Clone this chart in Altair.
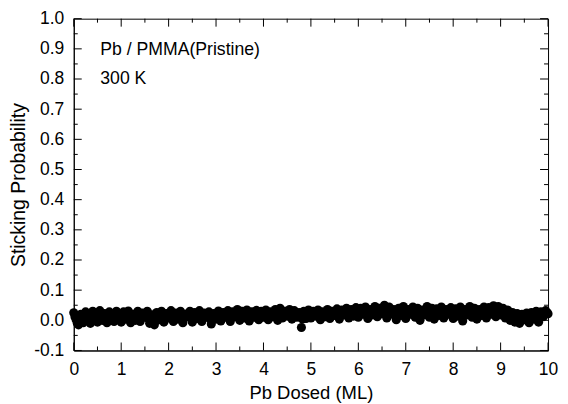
import altair as alt
import pandas as pd

# Pb dosed (ML) and sticking probability
dose = [
    0.00, 0.05, 0.10, 0.15, 0.20, 0.25, 0.30, 0.35, 0.40, 0.45, 0.50, 0.55, 0.60, 0.65, 0.70, 0.75, 0.80, 0.85, 0.90, 0.95,
    1.00, 1.05, 1.10, 1.15, 1.20, 1.25, 1.30, 1.35, 1.40, 1.45, 1.50, 1.55, 1.60, 1.65, 1.70, 1.75, 1.80, 1.85, 1.90, 1.95,
    2.00, 2.05, 2.10, 2.15, 2.20, 2.25, 2.30, 2.35, 2.40, 2.45, 2.50, 2.55, 2.60, 2.65, 2.70, 2.75, 2.80, 2.85, 2.90, 2.95,
    3.00, 3.05, 3.10, 3.15, 3.20, 3.25, 3.30, 3.35, 3.40, 3.45, 3.50, 3.55, 3.60, 3.65, 3.70, 3.75, 3.80, 3.85, 3.90, 3.95,
    4.00, 4.05, 4.10, 4.15, 4.20, 4.25, 4.30, 4.35, 4.40, 4.45, 4.50, 4.55, 4.60, 4.65, 4.70, 4.75, 4.80, 4.85, 4.90, 4.95,
    5.00, 5.05, 5.10, 5.15, 5.20, 5.25, 5.30, 5.35, 5.40, 5.45, 5.50, 5.55, 5.60, 5.65, 5.70, 5.75, 5.80, 5.85, 5.90, 5.95,
    6.00, 6.05, 6.10, 6.15, 6.20, 6.25, 6.30, 6.35, 6.40, 6.45, 6.50, 6.55, 6.60, 6.65, 6.70, 6.75, 6.80, 6.85, 6.90, 6.95,
    7.00, 7.05, 7.10, 7.15, 7.20, 7.25, 7.30, 7.35, 7.40, 7.45, 7.50, 7.55, 7.60, 7.65, 7.70, 7.75, 7.80, 7.85, 7.90, 7.95,
    8.00, 8.05, 8.10, 8.15, 8.20, 8.25, 8.30, 8.35, 8.40, 8.45, 8.50, 8.55, 8.60, 8.65, 8.70, 8.75, 8.80, 8.85, 8.90, 8.95,
    9.00, 9.05, 9.10, 9.15, 9.20, 9.25, 9.30, 9.35, 9.40, 9.45, 9.50, 9.55, 9.60, 9.65, 9.70, 9.75, 9.80, 9.85, 9.90, 9.95,
    10.00,
]
sticking = [
    0.025, 0.002, -0.015, 0.020, -0.008, 0.028, 0.005, -0.010, 0.030, 0.010, -0.006, 0.032, 0.000, 0.022, -0.008, 0.028, 0.006, -0.004, 0.030, 0.012,
    -0.006, 0.028, 0.004, 0.031, -0.008, 0.020, 0.000, 0.030, -0.004, 0.024, 0.010, 0.030, -0.010, 0.018, -0.015, 0.026, 0.002, 0.030, -0.006, 0.022,
    0.008, 0.032, -0.004, 0.024, 0.004, 0.030, -0.008, 0.020, 0.012, 0.030, -0.006, 0.026, 0.006, 0.032, -0.004, 0.024, 0.010, 0.028, -0.012, 0.022,
    0.004, 0.031, -0.002, 0.026, 0.010, 0.032, -0.004, 0.028, 0.012, 0.036, 0.000, 0.030, 0.008, 0.034, -0.002, 0.028, 0.010, 0.033, 0.002, 0.030,
    0.010, 0.034, 0.002, 0.028, 0.012, 0.036, 0.000, 0.040, 0.008, 0.030, 0.014, 0.036, 0.004, 0.032, 0.010, 0.026, -0.024, 0.030, 0.006, 0.034,
    0.008, 0.030, 0.014, 0.034, 0.002, 0.028, 0.012, 0.036, 0.006, 0.030, 0.016, 0.038, 0.004, 0.034, 0.018, 0.040, 0.008, 0.036, 0.014, 0.042,
    0.010, 0.040, 0.020, 0.044, 0.006, 0.036, 0.018, 0.046, 0.012, 0.040, 0.022, 0.050, 0.008, 0.044, 0.020, 0.036, 0.002, 0.040, 0.016, 0.046,
    0.006, 0.036, 0.020, 0.044, 0.010, 0.040, 0.000, 0.034, 0.018, 0.046, 0.010, 0.040, 0.004, 0.038, 0.016, 0.044, 0.008, 0.036, 0.020, 0.042,
    0.006, 0.038, 0.014, 0.044, -0.002, 0.036, 0.018, 0.046, 0.010, 0.040, 0.004, 0.036, 0.016, 0.044, 0.008, 0.042, 0.020, 0.048, 0.012, 0.046,
    0.018, 0.040, 0.008, 0.034, 0.000, 0.026, -0.006, 0.022, -0.010, 0.020, 0.002, 0.024, -0.008, 0.026, 0.004, 0.030, -0.006, 0.028, 0.012, 0.032,
    0.022,
]
# interleaved readings between the ones above
dose_b = [
    0.025, 0.075, 0.125, 0.175, 0.225, 0.275, 0.325, 0.375, 0.425, 0.475, 0.525, 0.575, 0.625, 0.675, 0.725, 0.775, 0.825, 0.875, 0.925, 0.975,
    1.025, 1.075, 1.125, 1.175, 1.225, 1.275, 1.325, 1.375, 1.425, 1.475, 1.525, 1.575, 1.625, 1.675, 1.725, 1.775, 1.825, 1.875, 1.925, 1.975,
    2.025, 2.075, 2.125, 2.175, 2.225, 2.275, 2.325, 2.375, 2.425, 2.475, 2.525, 2.575, 2.625, 2.675, 2.725, 2.775, 2.825, 2.875, 2.925, 2.975,
    3.025, 3.075, 3.125, 3.175, 3.225, 3.275, 3.325, 3.375, 3.425, 3.475, 3.525, 3.575, 3.625, 3.675, 3.725, 3.775, 3.825, 3.875, 3.925, 3.975,
    4.025, 4.075, 4.125, 4.175, 4.225, 4.275, 4.325, 4.375, 4.425, 4.475, 4.525, 4.575, 4.625, 4.675, 4.725, 4.775, 4.825, 4.875, 4.925, 4.975,
    5.025, 5.075, 5.125, 5.175, 5.225, 5.275, 5.325, 5.375, 5.425, 5.475, 5.525, 5.575, 5.625, 5.675, 5.725, 5.775, 5.825, 5.875, 5.925, 5.975,
    6.025, 6.075, 6.125, 6.175, 6.225, 6.275, 6.325, 6.375, 6.425, 6.475, 6.525, 6.575, 6.625, 6.675, 6.725, 6.775, 6.825, 6.875, 6.925, 6.975,
    7.025, 7.075, 7.125, 7.175, 7.225, 7.275, 7.325, 7.375, 7.425, 7.475, 7.525, 7.575, 7.625, 7.675, 7.725, 7.775, 7.825, 7.875, 7.925, 7.975,
    8.025, 8.075, 8.125, 8.175, 8.225, 8.275, 8.325, 8.375, 8.425, 8.475, 8.525, 8.575, 8.625, 8.675, 8.725, 8.775, 8.825, 8.875, 8.925, 8.975,
    9.025, 9.075, 9.125, 9.175, 9.225, 9.275, 9.325, 9.375, 9.425, 9.475, 9.525, 9.575, 9.625, 9.675, 9.725, 9.775, 9.825, 9.875, 9.925, 9.975,
]
sticking_b = [
    0.012, -0.010, 0.004, 0.010, 0.015, 0.012, -0.002, 0.018, 0.016, 0.024, 0.012, 0.014, 0.010, 0.005, 0.012, 0.016, 0.020, 0.014, 0.018, 0.004,
    0.014, 0.014, 0.020, 0.010, 0.008, 0.012, 0.018, 0.010, 0.014, 0.018, 0.020, 0.006, 0.006, 0.002, 0.008, 0.012, 0.018, 0.010, 0.010, 0.016,
    0.020, 0.012, 0.012, 0.016, 0.018, 0.008, 0.006, 0.016, 0.024, 0.010, 0.012, 0.018, 0.020, 0.012, 0.012, 0.018, 0.020, 0.006, 0.004, 0.014,
    0.018, 0.012, 0.014, 0.020, 0.022, 0.010, 0.014, 0.022, 0.026, 0.016, 0.016, 0.020, 0.022, 0.012, 0.014, 0.020, 0.024, 0.016, 0.018, 0.020,
    0.022, 0.016, 0.014, 0.022, 0.026, 0.016, 0.022, 0.026, 0.018, 0.024, 0.026, 0.018, 0.020, 0.022, 0.016, 0.010, 0.004, 0.018, 0.022, 0.020,
    0.018, 0.022, 0.026, 0.016, 0.014, 0.022, 0.026, 0.020, 0.018, 0.024, 0.028, 0.020, 0.018, 0.026, 0.030, 0.022, 0.022, 0.026, 0.030, 0.024,
    0.026, 0.030, 0.032, 0.024, 0.020, 0.028, 0.032, 0.028, 0.026, 0.032, 0.036, 0.028, 0.026, 0.032, 0.028, 0.018, 0.022, 0.028, 0.032, 0.024,
    0.020, 0.028, 0.032, 0.026, 0.024, 0.018, 0.016, 0.026, 0.032, 0.028, 0.024, 0.022, 0.020, 0.028, 0.030, 0.026, 0.022, 0.028, 0.032, 0.024,
    0.022, 0.026, 0.030, 0.020, 0.016, 0.026, 0.032, 0.028, 0.024, 0.022, 0.020, 0.026, 0.030, 0.026, 0.024, 0.032, 0.034, 0.030, 0.028, 0.032,
    0.028, 0.024, 0.020, 0.016, 0.012, 0.010, 0.008, 0.006, 0.004, 0.012, 0.012, 0.008, 0.010, 0.016, 0.018, 0.012, 0.010, 0.020, 0.022, 0.026,
]

x_major = [0, 1, 2, 3, 4, 5, 6, 7, 8, 9, 10]
x_minor = [0.5, 1.5, 2.5, 3.5, 4.5, 5.5, 6.5, 7.5, 8.5, 9.5]
y_major = [-0.1, 0.0, 0.1, 0.2, 0.3, 0.4, 0.5, 0.6, 0.7, 0.8, 0.9, 1.0]
y_minor = [-0.05, 0.05, 0.15, 0.25, 0.35, 0.45, 0.55, 0.65, 0.75, 0.85, 0.95]

notes = ["Pb / PMMA(Pristine)", "300 K"]
note_x = [0.56, 0.56]
note_y = [0.878, 0.785]

W, H = 476, 333
FONT = "Liberation Sans"
LFS = 17.5
MAJ, MIN = 8, 4

xs = alt.Scale(domain=[0, 10], nice=False, zero=False)
ys = alt.Scale(domain=[-0.1, 1.0], nice=False, zero=False)

df = pd.DataFrame({"dose": dose + dose_b, "s": sticking + sticking_b})

X_TITLE = "Pb Dosed (ML)"
Y_TITLE = "Sticking Probability"

points = alt.Chart(df).mark_circle(size=84, color="black", opacity=1).encode(
    x=alt.X("dose:Q", scale=xs, title=X_TITLE,
            axis=alt.Axis(values=x_major, tickCount=20, format="d", ticks=False, tickSize=0,
                          grid=False, labelPadding=10, titlePadding=6, titleFontSize=18.5,
                          labelOverlap=False, labelFlush=False, labelBound=False)),
    y=alt.Y("s:Q", scale=ys, title=Y_TITLE,
            axis=alt.Axis(values=y_major, tickCount=20, ticks=False, tickSize=0, grid=False,
                          labelExpr="datum.value < -0.001 ? '-' + format(-datum.value, '.1f') : format(datum.value, '.1f')",
                          labelPadding=10, titlePadding=5, titleFontSize=19.5,
                          labelOverlap=False, labelFlush=False, labelBound=False)),
)

def xticks(vals, length):
    d = pd.DataFrame({"dose": vals})
    b = alt.Chart(d).mark_rule(color="black", strokeWidth=1).encode(
        x=alt.X("dose:Q", scale=xs, title=X_TITLE), y=alt.value(H), y2=alt.value(H - length))
    t = alt.Chart(d).mark_rule(color="black", strokeWidth=1).encode(
        x=alt.X("dose:Q", scale=xs, title=X_TITLE), y=alt.value(0), y2=alt.value(length))
    return [b, t]

def yticks(vals, length):
    d = pd.DataFrame({"s": vals})
    l = alt.Chart(d).mark_rule(color="black", strokeWidth=1).encode(
        y=alt.Y("s:Q", scale=ys, title=Y_TITLE), x=alt.value(0), x2=alt.value(length))
    r = alt.Chart(d).mark_rule(color="black", strokeWidth=1).encode(
        y=alt.Y("s:Q", scale=ys, title=Y_TITLE), x=alt.value(W), x2=alt.value(W - length))
    return [l, r]

text = alt.Chart(pd.DataFrame({"t": notes, "dose": note_x, "s": note_y})).mark_text(
    align="left", baseline="alphabetic", font=FONT, fontSize=17.7, color="black"
).encode(
    x=alt.X("dose:Q", scale=xs, title=X_TITLE),
    y=alt.Y("s:Q", scale=ys, title=Y_TITLE),
    text="t:N",
)

layers = [points] + xticks(x_major, MAJ) + xticks(x_minor, MIN) + yticks(y_major, MAJ) + yticks(y_minor, MIN) + [text]

chart = alt.layer(*layers).properties(
    width=W, height=H,
    autosize=alt.AutoSizeParams(type="none"),
    padding={"left": 66, "top": 10, "right": 12, "bottom": 56},
).configure_view(stroke="black", strokeWidth=1).configure_axis(
    domainColor="black", domainWidth=1, labelColor="black", titleColor="black",
    labelFont=FONT, titleFont=FONT, labelFontSize=LFS,
    titleFontWeight="normal",
)

chart.save("out.html", embed_options={"renderer": "svg", "actions": False})
